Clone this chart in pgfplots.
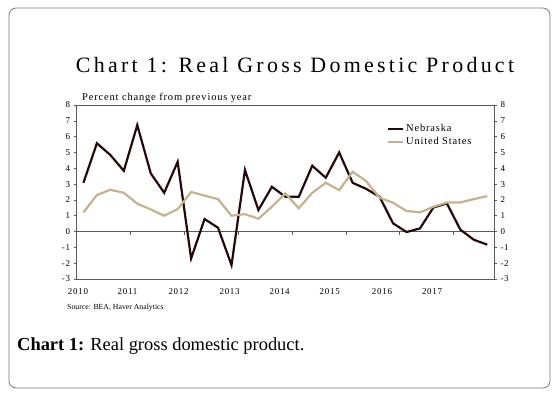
\documentclass[border=0pt]{standalone}
\usepackage{fontspec}
\setmainfont{Liberation Serif}
\newfontfamily\spfont[LetterSpace=8]{Liberation Serif}
\newfontfamily\titlefont[LetterSpace=15]{Liberation Serif}
\usepackage{pgfplots}
\pgfplotsset{compat=1.18}
\definecolor{neb}{RGB}{38,8,8}
\definecolor{usc}{RGB}{198,178,140}
\definecolor{framec}{RGB}{120,120,120}
\definecolor{axc}{RGB}{90,90,90}

% x = years since start of 2010 (quarter midpoints)
\pgfplotstableread{
x ne us
0.125 3.08 1.21
0.375 5.58 2.31
0.625 4.84 2.64
0.875 3.84 2.45
1.125 6.73 1.76
1.375 3.68 1.40
1.625 2.45 1.00
1.875 4.41 1.42
2.125 -1.70 2.50
2.375 0.79 2.27
2.625 0.24 2.05
2.875 -2.12 1.00
3.125 3.89 1.10
3.375 1.36 0.81
3.625 2.83 1.57
3.875 2.20 2.41
4.125 2.20 1.47
4.375 4.16 2.45
4.625 3.40 3.08
4.875 5.00 2.62
5.125 3.08 3.78
5.375 2.70 3.19
5.625 2.20 2.14
5.875 0.52 1.82
6.125 -0.03 1.30
6.375 0.20 1.21
6.625 1.52 1.57
6.875 1.78 1.84
7.125 0.12 1.84
7.375 -0.52 2.05
7.625 -0.83 2.24
}\gdp

\begin{document}
\begin{tikzpicture}
\useasboundingbox (0,0) rectangle (558bp,397bp);
\draw[framec, line width=0.8bp, rounded corners=7bp] (9bp,9bp) rectangle (550bp,389bp);
\node[font=\titlefont\fontsize{22}{26}\selectfont] at (295bp,332bp) {Chart 1: Real Gross Domestic Product};
\node[anchor=base west, inner sep=0pt, font=\spfont\fontsize{10.5}{12}\selectfont] at (82bp,296bp) {Percent change from previous year};
\node[anchor=base west, inner sep=0pt, font=\fontsize{7.8}{9}\selectfont] at (67bp,87bp) {Source: BEA, Haver Analytics};
\node[anchor=base west, inner sep=0pt, font=\fontsize{18.5}{21}\selectfont] at (17bp,46bp) {\textbf{Chart 1:} Real gross domestic product.};

\begin{axis}[at={(76.7bp,118bp)}, anchor=south west, scale only axis,
  width=417.3bp, height=174bp,
  xmin=0, xmax=7.75, ymin=-3, ymax=8,
  ytick={-3,...,8}, ytick pos=left,
  xtick={0.024,0.944,1.892,2.84,3.77,4.70,5.67,6.60},
  xticklabels={2010,2011,2012,2013,2014,2015,2016,2017},
  xtick style={draw=none},
  tick align=outside, major tick length=3bp,
  axis line style={axc, line width=0.8bp},
  ytick style={axc, line width=0.6bp},
  /pgf/number format/assume math mode=true,
  ticklabel style={font=\spfont\fontsize{9}{10}\selectfont},
  xticklabel style={yshift=-3.5bp},
  legend style={at={(0.743,0.825)}, anchor=west, draw=none, fill=none,
    inner sep=0pt, font=\spfont\fontsize{10.5}{12}\selectfont,
    row sep=0bp, cells={anchor=west}},
  legend image code/.code={\draw[#1] (0bp,0bp) -- (15bp,0bp);},
  clip=false,
]
\draw[axc, line width=0.6bp] (axis cs:0,0) -- (axis cs:7.75,0);
\pgfplotsinvokeforeach{1,...,7}{\draw[axc, line width=0.6bp] (axis cs:#1,0) -- ([yshift=-3bp]axis cs:#1,0);}
\addplot[neb, line width=2.2bp] table[x=x, y=ne] {\gdp};
\addlegendentry{Nebraska}
\addplot[usc, line width=2.2bp] table[x=x, y=us] {\gdp};
\addlegendentry{United States}
\end{axis}
\begin{axis}[at={(76.7bp,118bp)}, anchor=south west, scale only axis,
  width=417.3bp, height=174bp,
  xmin=0, xmax=7.75, ymin=-3, ymax=8,
  ytick={-3,...,8}, axis y line*=right, axis x line=none,
  tick align=outside, major tick length=3bp,
  axis line style={axc, line width=0.8bp},
  ytick style={axc, line width=0.6bp},
  /pgf/number format/assume math mode=true,
  ticklabel style={font=\spfont\fontsize{9}{10}\selectfont},
]
\end{axis}
\end{tikzpicture}
\end{document}
